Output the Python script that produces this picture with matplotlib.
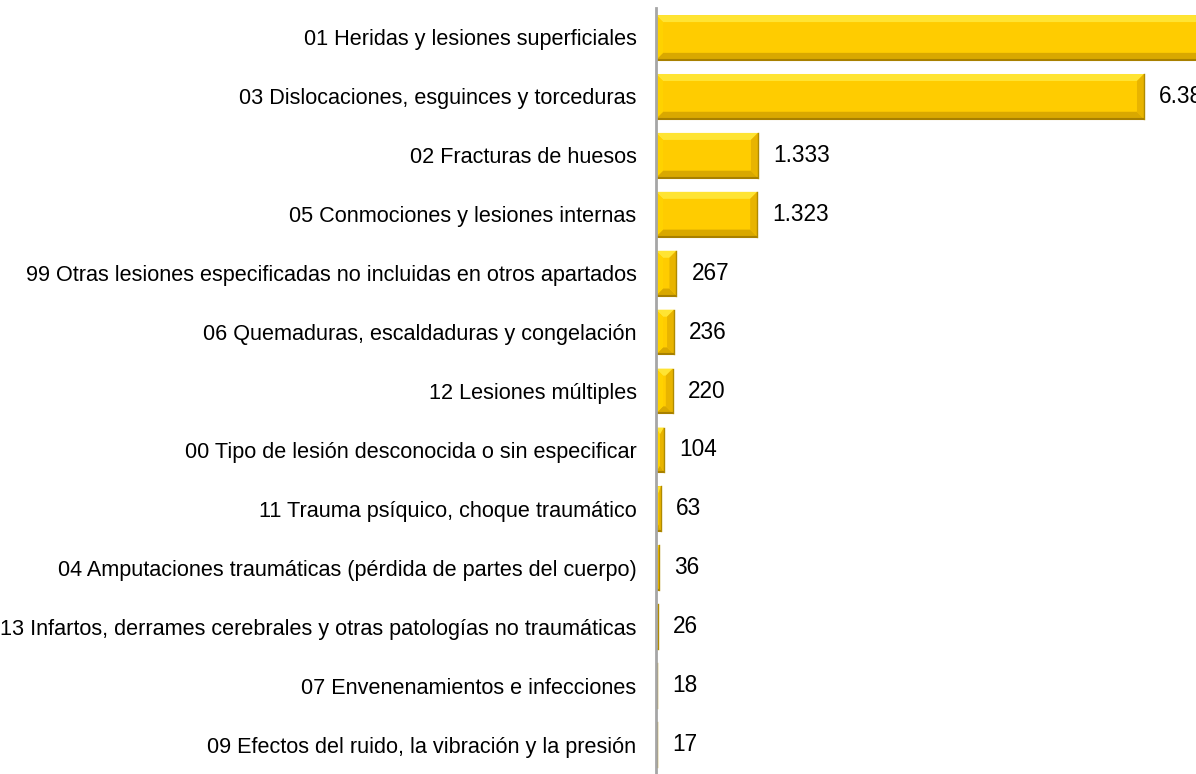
import numpy as np
import matplotlib.pyplot as plt
from matplotlib.patches import Polygon

plt.rcParams['font.family'] = ['Liberation Sans', 'DejaVu Sans']

categories = [
    "01 Heridas y lesiones superficiales",
    "03 Dislocaciones, esguinces y torceduras",
    "02 Fracturas de huesos",
    "05 Conmociones y lesiones internas",
    "99 Otras lesiones especificadas no incluidas en otros apartados",
    "06 Quemaduras, escaldaduras y congelación",
    "12 Lesiones múltiples",
    "00 Tipo de lesión desconocida o sin especificar",
    "11 Trauma psíquico, choque traumático",
    "04 Amputaciones traumáticas (pérdida de partes del cuerpo)",
    "13 Infartos, derrames cerebrales y otras patologías no traumáticas",
    "07 Envenenamientos e infecciones",
    "09 Efectos del ruido, la vibración y la presión",
]
values = [10500, 6380, 1333, 1323, 267, 236, 220, 104, 63, 36, 26, 18, 17]


def fmt(v):
    return f"{v:,}".replace(",", ".")


W, H, DPI = 11.96, 7.74, 100
fig = plt.figure(figsize=(W, H), dpi=DPI)
ax_left, ax_bottom, ax_top = 656 / 1196, 0.0, 1 - 8 / 774
ax = fig.add_axes([ax_left, ax_bottom, 1 - ax_left, ax_top - ax_bottom])

xmax = 7060
n = len(values)
ax.set_xlim(0, xmax)
ax.set_ylim(n - 0.5, -0.5)

ypos = np.arange(n)
bar_h = 0.76
face = "#FFCC00"
ax.barh(ypos, values, height=bar_h, color=face, edgecolor="none", zorder=2)

# bevel (pixel size converted into data units)
ax_w_px = (1 - ax_left) * W * DPI
ax_h_px = (ax_top - ax_bottom) * H * DPI
bev_px = 7
bx = bev_px * xmax / ax_w_px
by = bev_px * n / ax_h_px
for y, v in zip(ypos, values):
    t, b = y - bar_h / 2, y + bar_h / 2
    dx = min(bx, v / 2)
    top = [(0, t), (v, t), (v - dx, t + by), (dx, t + by)]
    bot = [(0, b), (v, b), (v - dx, b - by), (dx, b - by)]
    right = [(v, t), (v, b), (v - dx, b - by), (v - dx, t + by)]
    left = [(0, t), (0, b), (dx, b - by), (dx, t + by)]
    ax.add_patch(Polygon(top, closed=True, color="#FFE433", lw=0, zorder=3))
    ax.add_patch(Polygon(bot, closed=True, color="#D9A800", lw=0, zorder=3))
    ax.add_patch(Polygon(right, closed=True, color="#E8B400", lw=0, zorder=3))
    ax.add_patch(Polygon(left, closed=True, color="#FFD200", lw=0, zorder=3))
    ax.plot([0, v], [b, b], color="#A88000", lw=1.5, zorder=4, solid_capstyle="butt")
    ax.plot([v, v], [t, b], color="#B08A00", lw=1.0, zorder=4)
    ax.annotate(fmt(v), xy=(v, y), xytext=(11, 0), textcoords="offset points",
                ha="left", va="center", fontsize=16.3, color="black")

ax.set_yticks(ypos)
ax.set_yticklabels(categories, fontsize=15.6)
ax.tick_params(axis="y", length=0, pad=14)
ax.set_xticks([])
for s in ["top", "right", "bottom"]:
    ax.spines[s].set_visible(False)
ax.spines["left"].set_color("#A6A6A6")
ax.spines["left"].set_linewidth(2)
ax.spines["left"].set_zorder(5)

fig.savefig("out.png", dpi=DPI)
